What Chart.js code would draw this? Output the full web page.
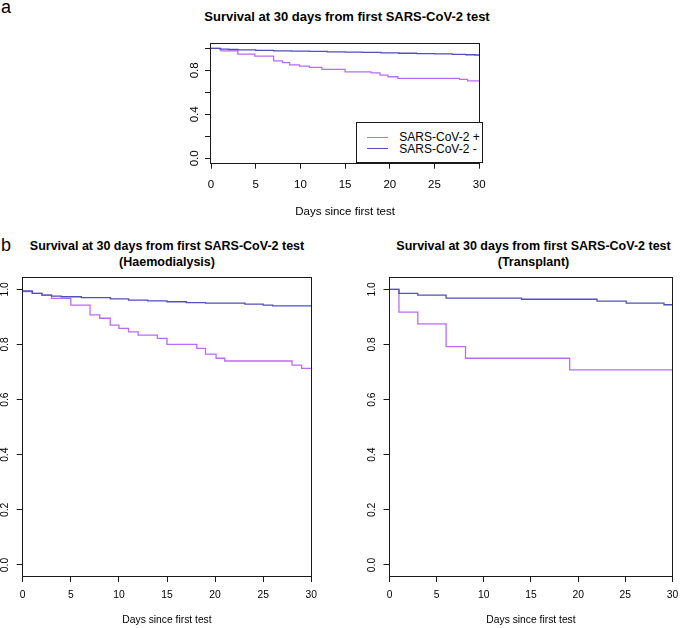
<!DOCTYPE html>
<html><head><meta charset="utf-8">
<script src="https://cdn.jsdelivr.net/npm/chart.js@4/dist/chart.umd.min.js"></script>
<style>
html,body{margin:0;padding:0;background:#fff;}
body{width:685px;height:628px;position:relative;overflow:hidden;font-family:"Liberation Sans",Arial,sans-serif;color:#000;}
canvas{position:absolute;}
.ttl{position:absolute;font-weight:bold;text-align:center;white-space:nowrap;transform:translate(-50%,-50%);}
.pl{position:absolute;font-size:18px;line-height:18px;}
#legend{position:absolute;left:356px;top:121.5px;width:127px;height:41.2px;border:1px solid #1a1a1a;box-sizing:border-box;background:#fff;}
.lg{position:absolute;font-size:12px;line-height:12px;white-space:nowrap;}
.ls{position:absolute;height:0;width:21.6px;}
</style></head><body>
<div class="pl" style="left:1px;top:-2px;">a</div>
<div class="pl" style="left:1px;top:236px;">b</div>
<div class="ttl" id="t1" style="left:347px;top:16px;font-size:13px;"></div>
<div class="ttl" id="t2" style="left:167px;top:254px;font-size:12.5px;line-height:16px;"></div>
<div class="ttl" id="t3" style="left:533.5px;top:254px;font-size:12.5px;line-height:16px;"></div>
<canvas id="cA" width="345" height="189" style="left:150px;top:30px;"></canvas>
<canvas id="cB" width="330" height="360" style="left:0px;top:266px;"></canvas>
<canvas id="cC" width="325" height="360" style="left:360px;top:266px;"></canvas>
<div id="legend"></div>
<script>
// ---- data ----
const titleMain = "Survival at 30 days from first SARS-CoV-2 test";
const subHaemo = "(Haemodialysis)";
const subTx = "(Transplant)";
const xTitle = "Days since first test";
const seriesNames = ["SARS-CoV-2 +", "SARS-CoV-2 -"];
const xTicks = [0, 5, 10, 15, 20, 25, 30];
const yTicks = [0, 0.2, 0.4, 0.6, 0.8, 1.0];
const yLabelsTop = [0, 0.4, 0.8];

// panel a: all patients
const allPosDays = [0, 1.1, 3.0, 4.9, 7.0, 8.0, 8.8, 9.9, 11.0, 12.4, 15.0, 17.9, 18.9, 19.8, 20.9, 27.8, 28.7, 30];
const allPosSurv = [1.0, 0.978, 0.948, 0.930, 0.887, 0.870, 0.850, 0.839, 0.827, 0.810, 0.787, 0.778, 0.757, 0.742, 0.727, 0.718, 0.705, 0.705];
const allNegDays = [0, 1, 2, 3, 5, 7, 9, 11, 13, 15, 17, 19, 21, 23, 25, 27, 28.5, 29.5, 30];
const allNegSurv = [1.0, 0.993, 0.990, 0.986, 0.982, 0.978, 0.975, 0.972, 0.969, 0.966, 0.963, 0.960, 0.956, 0.953, 0.950, 0.946, 0.942, 0.940, 0.940];

// panel b left: haemodialysis
const hdPosDays = [0, 1, 2, 3, 5, 7, 8, 9.1, 10, 11, 12, 14, 15, 18.1, 19, 20.1, 21, 28, 29, 30];
const hdPosSurv = [0.992, 0.985, 0.979, 0.967, 0.943, 0.907, 0.895, 0.870, 0.858, 0.846, 0.834, 0.822, 0.800, 0.786, 0.765, 0.750, 0.740, 0.725, 0.713, 0.713];
const hdNegDays = [0, 1, 2, 3, 4, 6.1, 9.1, 11, 13, 15, 17, 19, 23.1, 25, 26, 30];
const hdNegSurv = [0.994, 0.985, 0.979, 0.975, 0.973, 0.970, 0.965, 0.961, 0.958, 0.955, 0.952, 0.950, 0.946, 0.943, 0.940, 0.940];

// panel b right: transplant
const txPosDays = [0, 1, 3, 6, 8.06, 19.1, 30];
const txPosSurv = [1.0, 0.917, 0.875, 0.792, 0.750, 0.708, 0.708];
const txNegDays = [0, 1, 3, 6, 14, 22, 25.1, 29.1, 30];
const txNegSurv = [1.0, 0.985, 0.979, 0.968, 0.964, 0.957, 0.950, 0.944, 0.944];

// ---- styles ----
const COL_POS = '#bb6bf8';
const COL_NEG = '#5050bf';
const FONT = '"Liberation Sans", Arial, sans-serif';

document.getElementById('t1').textContent = titleMain;
document.getElementById('t2').innerHTML = titleMain + '<br>' + subHaemo;
document.getElementById('t3').innerHTML = titleMain + '<br>' + subTx;

// legend (HTML, from series names)
(function(){
  const lg = document.getElementById('legend');
  const cols = [COL_POS, COL_NEG];
  const ys = [137.7, 149];
  seriesNames.forEach((n, i) => {
    const s = document.createElement('div');
    s.className = 'ls';
    s.style.left = (366.7 - 357) + 'px';
    s.style.top = (ys[i] - 122.5 - 0.6) + 'px';
    s.style.borderTop = '1.3px solid ' + cols[i];
    lg.appendChild(s);
    const t = document.createElement('div');
    t.className = 'lg';
    t.textContent = n;
    t.style.left = (399.3 - 357) + 'px';
    t.style.top = (ys[i] - 122.5 - 6.5) + 'px';
    lg.appendChild(t);
  });
})();

const boxPlugin = {
  id: 'rbox',
  afterDatasetsDraw(chart) {
    const {ctx, chartArea: a} = chart;
    ctx.save();
    ctx.strokeStyle = '#1a1a1a';
    ctx.lineWidth = 1;
    const l = Math.round(a.left) - 0.5, t = Math.round(a.top) - 0.5;
    const r = Math.round(a.right) + 0.5, b = Math.round(a.bottom) + 0.5;
    ctx.strokeRect(l, t, r - l, b - t);
    ctx.restore();
  }
};

function pts(days, surv) { return days.map((d, i) => ({x: d, y: surv[i]})); }

function makeChart(id, cfg) {
  const fs = cfg.fontSize;
  new Chart(document.getElementById(id), {
    type: 'line',
    data: {
      datasets: [
        {label: seriesNames[1], data: pts(cfg.negD, cfg.negS), borderColor: COL_NEG, borderWidth: 1.3, pointRadius: 0, stepped: 'before', fill: false},
        {label: seriesNames[0], data: pts(cfg.posD, cfg.posS), borderColor: COL_POS, borderWidth: 1.3, pointRadius: 0, stepped: 'before', fill: false}
      ]
    },
    options: {
      responsive: false,
      animation: false,
      events: [],
      layout: {padding: cfg.pad},
      plugins: {legend: {display: false}, tooltip: {enabled: false}, title: {display: false}},
      scales: {
        x: {
          type: 'linear', min: 0, max: 30,
          afterBuildTicks: s => { s.ticks = xTicks.map(v => ({value: v})); },
          afterFit: s => { s.height = cfg.xH; },
          border: {display: false},
          grid: {display: true, drawOnChartArea: false, drawTicks: true, tickLength: 6, color: '#1a1a1a', lineWidth: 1},
          ticks: {autoSkip: false, maxRotation: 0, minRotation: 0, padding: cfg.xPad, color: '#000', font: {family: FONT, size: fs},
                  callback: v => String(v)},
          title: {display: true, text: xTitle, color: '#000', font: {family: FONT, size: fs}, padding: {top: 0, bottom: 0}}
        },
        y: {
          type: 'linear', min: -0.04, max: 1.04,
          afterBuildTicks: s => { s.ticks = yTicks.map(v => ({value: v})); },
          afterFit: s => { s.width = cfg.yW; },
          border: {display: false},
          grid: {display: true, drawOnChartArea: false, drawTicks: true, tickLength: 6, color: '#1a1a1a', lineWidth: 1},
          ticks: {autoSkip: false, minRotation: 90, maxRotation: 90, crossAlign: 'center', padding: cfg.yPad, color: '#000',
                  font: {family: FONT, size: fs},
                  callback: v => (cfg.yLabels.some(l => Math.abs(l - v) < 1e-9) ? v.toFixed(1) : '')}
        }
      }
    },
    plugins: [boxPlugin]
  });
}

makeChart('cA', {posD: allPosDays, posS: allPosSurv, negD: allNegDays, negS: allNegSurv,
  pad: {left: 0, top: 14, right: 12, bottom: 0}, yW: 61, xH: 56.3, fontSize: 11.5, xPad: 9.4, yPad: 2, yLabels: yLabelsTop});
makeChart('cB', {posD: hdPosDays, posS: hdPosSurv, negD: hdNegDays, negS: hdNegSurv,
  pad: {left: 0, top: 12.3, right: 18.7, bottom: 0}, yW: 22.7, xH: 50, fontSize: 10.3, xPad: 6.8, yPad: 4.5, yLabels: yTicks});
makeChart('cC', {posD: txPosDays, posS: txPosSurv, negD: txNegDays, negS: txNegSurv,
  pad: {left: 0, top: 12.3, right: 7.5, bottom: 0}, yW: 29.5, xH: 50, fontSize: 10.3, xPad: 6.8, yPad: 3.8, yLabels: yTicks});
</script>
</body></html>
